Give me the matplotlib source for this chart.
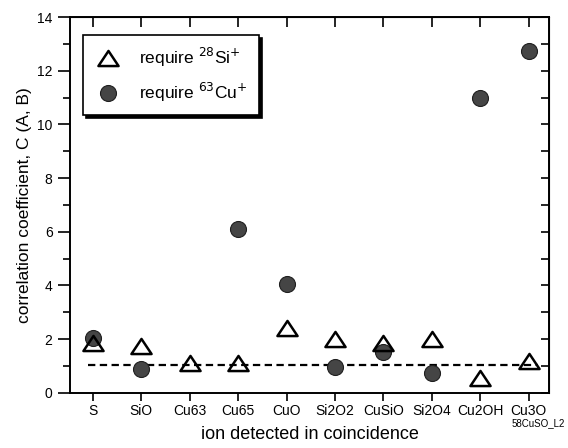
import numpy as np
import matplotlib
matplotlib.use("Agg")
import matplotlib.pyplot as plt
from matplotlib.path import Path

plt.rcParams["font.family"] = ["Liberation Sans", "DejaVu Sans"]

# ions detected in coincidence
ions = ["S", "SiO", "Cu63", "Cu65", "CuO", "Si2O2", "CuSiO", "Si2O4", "Cu2OH", "Cu3O"]
# correlation coefficient when requiring 28Si+
req_si = [1.84, 1.75, 1.12, 1.12, 2.40, 1.99, 1.84, 2.00, 0.54, 1.18]
# correlation coefficient when requiring 63Cu+ (no point for Cu63)
req_cu = [2.03, 0.88, np.nan, 6.09, 4.04, 0.95, 1.53, 0.75, 11.0, 12.73]
# uncorrelated level (dashed line)
baseline = 1.05
baseline_span = [-0.1, 9.2]

x = np.arange(len(ions))

fig = plt.figure(figsize=(5.68, 4.48), dpi=100)
ax = fig.add_axes([0.1232, 0.1234, 0.8433, 0.8386])

# slightly flattened open triangle, as in the original
tri = Path([(0, 0.75), (-1, -0.75), (1, -0.75), (0, 0.75)],
           [Path.MOVETO, Path.LINETO, Path.LINETO, Path.CLOSEPOLY])

ax.plot(baseline_span, [baseline, baseline], color="black", lw=1.6,
        linestyle=(0, (3.3, 2.0)), zorder=1)
ax.plot(x, req_cu, linestyle="none", marker="o", markersize=11.5,
        markerfacecolor="#454545", markeredgecolor="#1e1e1e", markeredgewidth=0.8,
        label="require $^{63}$Cu$^{+}$", zorder=2)
ax.plot(x, req_si, linestyle="none", marker=tri, markersize=14.5,
        markerfacecolor="none", markeredgecolor="black", markeredgewidth=1.8,
        label="require $^{28}$Si$^{+}$", zorder=3)

ax.set_xlim(-0.475, 9.42)
ax.set_ylim(0, 14)
ax.set_xticks(x)
ax.set_xticklabels(ions, fontsize=10)
ax.set_yticks(np.arange(0, 15, 2))
ax.set_yticks(np.arange(1, 15, 2), minor=True)
ax.tick_params(axis="y", which="major", direction="out", length=9, width=1.2, labelsize=10)
ax.tick_params(axis="y", which="minor", direction="out", length=5, width=1.2)
ax.tick_params(axis="x", direction="out", length=6, width=1.2, pad=2)
for s in ax.spines.values():
    s.set_linewidth(1.4)

top = ax.secondary_xaxis("top")
top.set_xticks(x)
top.tick_params(direction="in", length=7, width=1.2, labeltop=False)
right = ax.secondary_yaxis("right")
right.set_yticks(np.arange(0, 15, 1))
right.tick_params(direction="in", length=6, width=1.2, labelright=False)

ax.set_xlabel("ion detected in coincidence", fontsize=13, labelpad=6)
ax.set_ylabel("correlation coefficient, C (A, B)", fontsize=12.5, labelpad=4)

handles, labels = ax.get_legend_handles_labels()
leg = ax.legend(handles[::-1], labels[::-1], loc="upper left",
                bbox_to_anchor=(0.027, 0.952), borderaxespad=0, fontsize=12.5,
                frameon=True, fancybox=False, edgecolor="black",
                shadow={"color": "black", "alpha": 1}, labelspacing=0.65,
                handlelength=1.6, handletextpad=1.0, borderpad=0.65)
leg.get_frame().set_linewidth(1.2)
leg.get_frame().set_alpha(1)

fig.text(0.995, 0.056, "58CuSO_L2", fontsize=7, ha="right", va="center")

fig.savefig("out.png", dpi=100)
